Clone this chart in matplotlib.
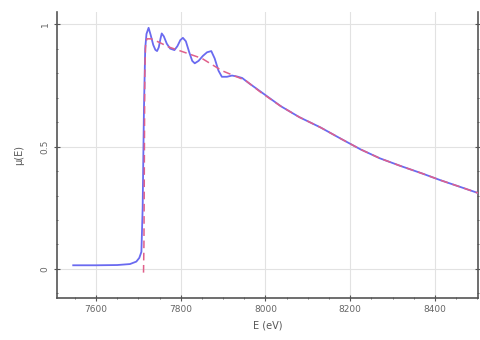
import matplotlib
matplotlib.use("Agg")
import matplotlib.pyplot as plt
from matplotlib.ticker import MultipleLocator

# measured absorption spectrum
energy_meas = [7546, 7600, 7650, 7680, 7695, 7702, 7707, 7710, 7713, 7716, 7719, 7724,
               7729, 7735, 7740, 7744, 7748, 7752, 7755, 7760, 7767, 7775, 7785, 7792,
               7799, 7805, 7812, 7820, 7827, 7833, 7842, 7852, 7862, 7872, 7880, 7889,
               7897, 7909, 7921, 7933, 7945, 7960, 7976, 8000, 8036, 8080, 8130, 8180,
               8225, 8270, 8320, 8370, 8414, 8460, 8502]
mu_meas = [0.015, 0.015, 0.016, 0.02, 0.03, 0.045, 0.07, 0.25, 0.65, 0.90, 0.96, 0.985,
           0.955, 0.915, 0.895, 0.89, 0.905, 0.94, 0.962, 0.95, 0.92, 0.90, 0.894, 0.91,
           0.935, 0.944, 0.93, 0.885, 0.85, 0.84, 0.85, 0.87, 0.885, 0.89, 0.86, 0.81,
           0.785, 0.785, 0.79, 0.786, 0.78, 0.76, 0.74, 0.71, 0.665, 0.62, 0.578, 0.53,
           0.488, 0.452, 0.42, 0.39, 0.362, 0.335, 0.31]

# smooth atomic background
energy_bkg = [7712, 7713, 7714, 7715, 7717, 7720, 7730, 7750, 7771, 7800, 7850, 7897,
              7953, 7990, 8036, 8080, 8130, 8180, 8225, 8270, 8320, 8370, 8414, 8460, 8502]
mu_bkg = [-0.015, 0.10, 0.45, 0.80, 0.92, 0.94, 0.94, 0.925, 0.907, 0.89, 0.86, 0.81,
          0.77, 0.72, 0.665, 0.62, 0.578, 0.53, 0.488, 0.452, 0.42, 0.39, 0.362, 0.335, 0.31]

xticks = [7600, 7800, 8000, 8200, 8400]
yticks = [0, 0.5, 1]
yticklabels = ["0", "0.5", "1"]

fig = plt.figure(figsize=(4.8, 3.4), dpi=100)
ax = fig.add_axes([0.119, 0.124, 0.877, 0.841])

ax.plot(energy_meas, mu_meas, color="#6a6af0", lw=1.3, zorder=3)
ax.plot(energy_bkg, mu_bkg, color="#e0608a", lw=1.1, ls=(0, (5, 3)), zorder=4)

ax.set_xlim(7508, 8502)
ax.set_ylim(-0.118, 1.05)
ax.set_xticks(xticks)
ax.set_yticks(yticks)
ax.set_yticklabels(yticklabels, rotation=90, va="center")
ax.xaxis.set_minor_locator(MultipleLocator(50))
ax.yaxis.set_minor_locator(MultipleLocator(0.1))
ax.grid(True, which="major", color="#e2e2e2", lw=0.8)
ax.set_axisbelow(True)

ax.spines["top"].set_visible(False)
for side in ("left", "bottom", "right"):
    ax.spines[side].set_color("#555555")
    ax.spines[side].set_linewidth(1.2)
ax.tick_params(which="both", direction="inout", colors="#555555", labelcolor="#666666",
               labelsize=6.5, right=True)
ax.tick_params(which="major", length=4)
ax.tick_params(which="minor", length=2)

ax.set_xlabel("E (eV)", fontsize=7, color="#555555", labelpad=4)
ax.set_ylabel("μ(E)", fontsize=7, color="#555555", labelpad=12)

fig.savefig("out.png", dpi=100)
